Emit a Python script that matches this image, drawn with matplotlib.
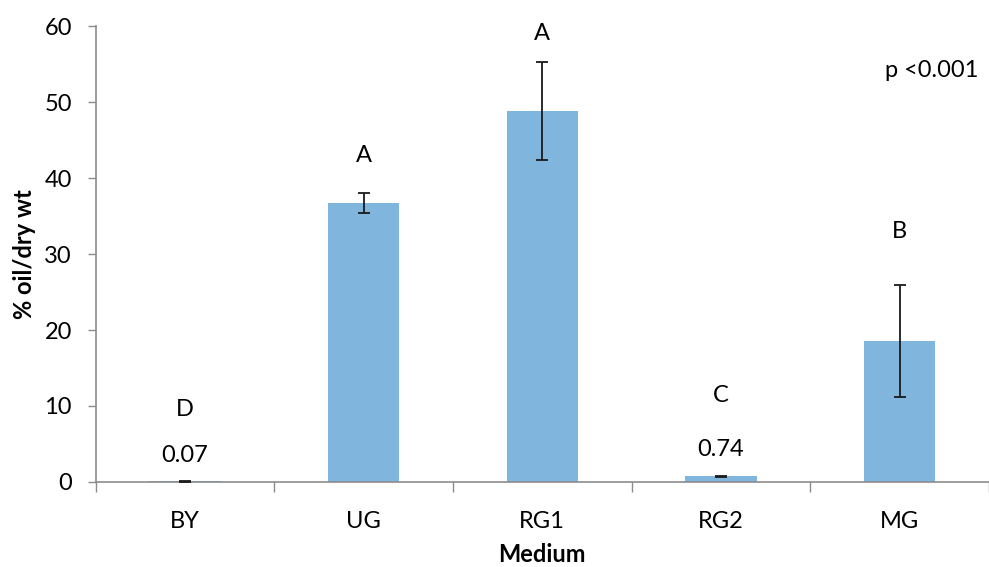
import matplotlib.pyplot as plt
import numpy as np

plt.rcParams['font.family'] = ['Lato', 'DejaVu Sans']

# --- data ---
media = ['BY', 'UG', 'RG1', 'RG2', 'MG']
oil_pct = [0.07, 36.7, 48.8, 0.74, 18.55]
oil_err = [0.05, 1.35, 6.4, 0.08, 7.35]
groups = ['D', 'A', 'A', 'C', 'B']
group_y = [9.6, 43.0, 59.0, 11.4, 32.9]
value_labels = {0: '0.07', 3: '0.74'}
value_label_y = {0: 3.55, 3: 4.3}

bar_color = '#80B5DD'
axis_color = '#8c8c8c'
fs = 17

fig = plt.figure(figsize=(9.89, 5.67), dpi=100)
ax = fig.add_axes([95.6 / 989, 85 / 567, 1 - 95.6 / 989, 456 / 567])

x = np.arange(len(media))
ax.bar(x, oil_pct, width=0.4, color=bar_color, zorder=2)
ax.errorbar(x, oil_pct, yerr=oil_err, fmt='none', ecolor='#1a1a1a',
            elinewidth=1.3, capsize=4.3, capthick=1.3, zorder=3)

# significance letters and small-value labels
for i, (g, gy) in enumerate(zip(groups, group_y)):
    ax.text(i, gy, g, ha='center', va='center', fontsize=fs)
for i, lab in value_labels.items():
    ax.text(i, value_label_y[i], lab, ha='center', va='center', fontsize=fs)

ax.text(4.18, 54.2, 'p <0.001', ha='center', va='center', fontsize=fs)

ax.set_xlim(-0.5, 4.48)
ax.set_ylim(0, 60)
ax.set_yticks(range(0, 61, 10))
ax.set_xticks(x)
ax.set_xticklabels(media)
ax.set_xticks(np.arange(-0.5, 4.6, 1.0), minor=True)

ax.tick_params(axis='y', labelsize=fs, color=axis_color, length=6,
               width=1, pad=11)
ax.tick_params(axis='x', which='major', labelsize=fs, length=0, pad=21)
ax.tick_params(axis='x', which='minor', color=axis_color, length=7, width=1)

for side in ['top', 'right']:
    ax.spines[side].set_visible(False)
for side in ['left', 'bottom']:
    ax.spines[side].set_color(axis_color)
    ax.spines[side].set_linewidth(1.2)

ax.set_ylabel('% oil/dry wt', fontsize=17, fontweight='bold', labelpad=6)
ax.set_xlabel('Medium', fontsize=17, fontweight='bold', labelpad=8)

fig.savefig('out.png', dpi=100)
